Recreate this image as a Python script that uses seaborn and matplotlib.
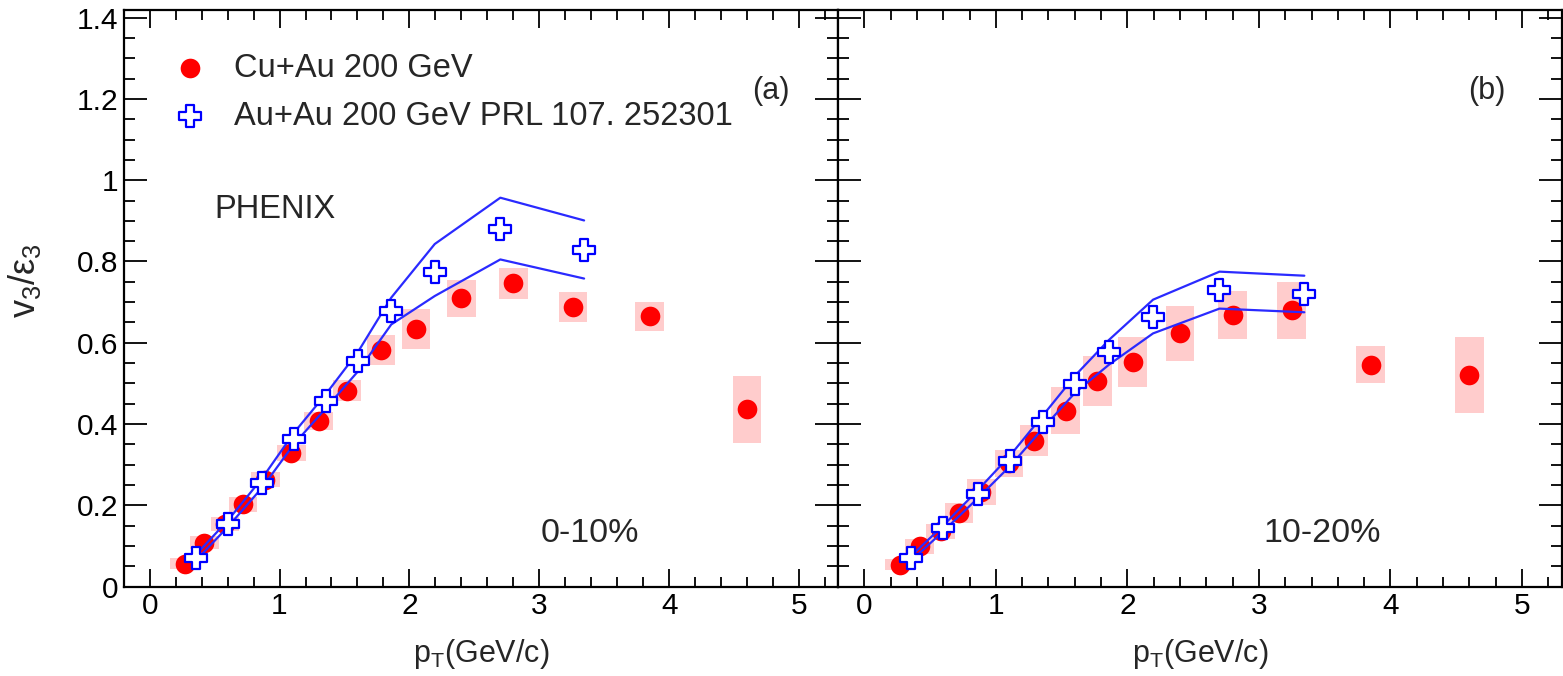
import numpy as np
import pandas as pd
import matplotlib
matplotlib.use("Agg")
import matplotlib.pyplot as plt
from matplotlib.ticker import MultipleLocator, FixedLocator
import seaborn as sns

sns.set_theme(style="ticks")
plt.rcParams["font.family"] = ["Liberation Sans", "DejaVu Sans"]
plt.rcParams["mathtext.default"] = "regular"

# ---------------- data ----------------
# Cu+Au 200 GeV, panel (a) 0-10%
cuau_pt_a = [0.27, 0.42, 0.58, 0.72, 0.89, 1.09, 1.30, 1.52, 1.78, 2.05, 2.40, 2.80, 3.26, 3.85, 4.60]
cuau_v_a = [0.056, 0.108, 0.153, 0.202, 0.263, 0.329, 0.408, 0.482, 0.583, 0.634, 0.709, 0.746, 0.689, 0.665, 0.436]
cuau_sys_a = [0.014, 0.016, 0.017, 0.018, 0.019, 0.020, 0.022, 0.026, 0.037, 0.049, 0.046, 0.039, 0.037, 0.036, 0.083]

# Cu+Au 200 GeV, panel (b) 10-20%
cuau_pt_b = [0.27, 0.42, 0.58, 0.72, 0.89, 1.10, 1.29, 1.53, 1.77, 2.04, 2.40, 2.80, 3.25, 3.85, 4.60]
cuau_v_b = [0.054, 0.099, 0.136, 0.181, 0.232, 0.303, 0.359, 0.433, 0.506, 0.553, 0.623, 0.668, 0.680, 0.546, 0.520]
cuau_sys_b = [0.014, 0.018, 0.018, 0.024, 0.032, 0.034, 0.039, 0.057, 0.061, 0.061, 0.068, 0.059, 0.070, 0.046, 0.094]

# Au+Au 200 GeV PRL 107, 252301
auau_pt = [0.355, 0.60, 0.865, 1.11, 1.36, 1.605, 1.86, 2.195, 2.70, 3.345]
auau_v_a = [0.071, 0.153, 0.254, 0.364, 0.457, 0.555, 0.678, 0.775, 0.880, 0.828]
auau_hi_a = [0.078, 0.162, 0.266, 0.378, 0.475, 0.578, 0.711, 0.843, 0.957, 0.901]
auau_lo_a = [0.064, 0.146, 0.243, 0.350, 0.440, 0.530, 0.645, 0.715, 0.805, 0.758]
auau_v_b = [0.069, 0.143, 0.228, 0.310, 0.405, 0.499, 0.577, 0.664, 0.729, 0.720]
auau_hi_b = [0.075, 0.150, 0.238, 0.323, 0.422, 0.520, 0.607, 0.706, 0.775, 0.765]
auau_lo_b = [0.063, 0.136, 0.218, 0.297, 0.390, 0.478, 0.546, 0.623, 0.684, 0.675]

x_ticks = [0, 1, 2, 3, 4, 5]
y_ticks = [0, 0.2, 0.4, 0.6, 0.8, 1.0, 1.2, 1.4]
y_tick_labels = ["0", "0.2", "0.4", "0.6", "0.8", "1", "1.2", "1.4"]
panel_tags = ["(a)", "(b)"]
cent_labels = ["0-10%", "10-20%"]
label_cuau = "Cu+Au 200 GeV"
label_auau = "Au+Au 200 GeV PRL 107. 252301"

# ---------------- figure ----------------
W, H = 1563, 676
fig = plt.figure(figsize=(W / 100, H / 100), dpi=100)
bot = 1 - 586.5 / H
hgt = (586.5 - 9.6) / H
ax1 = fig.add_axes([123.7 / W, bot, (838 - 123.7) / W, hgt])
ax2 = fig.add_axes([838 / W, bot, (1561.5 - 838) / W, hgt])

RED = "#ff0000"
PINK = "#ffcccc"
BLUE = "#0000ff"
LBLUE = "#2a2aff"

panels = [
    (ax1, cuau_pt_a, cuau_v_a, cuau_sys_a, auau_v_a, auau_hi_a, auau_lo_a),
    (ax2, cuau_pt_b, cuau_v_b, cuau_sys_b, auau_v_b, auau_hi_b, auau_lo_b),
]

for i, (ax, pt, v, sys_, av, ahi, alo) in enumerate(panels):
    cu = pd.DataFrame({"pt": pt, "v": v, "sys": sys_})
    au = pd.DataFrame({"pt": auau_pt, "v": av, "hi": ahi, "lo": alo})
    # systematic boxes
    ax.bar(cu["pt"], 2 * cu["sys"], bottom=cu["v"] - cu["sys"], width=0.22,
           color=PINK, edgecolor="none", zorder=1)
    # Cu+Au points
    sns.scatterplot(data=cu, x="pt", y="v", ax=ax, color=RED, s=200, marker="o",
                    linewidth=0, zorder=3, label=label_cuau if i == 0 else None)
    # Au+Au band lines
    sns.lineplot(data=au, x="pt", y="hi", ax=ax, color=LBLUE, lw=1.6, sort=False,
                 estimator=None, zorder=4, legend=False)
    sns.lineplot(data=au, x="pt", y="lo", ax=ax, color=LBLUE, lw=1.6, sort=False,
                 estimator=None, zorder=4, legend=False)
    # Au+Au points
    sns.scatterplot(data=au, x="pt", y="v", ax=ax, marker="P", s=260,
                    facecolor="white", edgecolor=BLUE, linewidth=1.6, zorder=5,
                    label=label_auau if i == 0 else None)

    ax.set_xlim(-0.2, 5.3)
    ax.set_ylim(0, 1.42)
    ax.xaxis.set_major_locator(FixedLocator(x_ticks))
    ax.xaxis.set_minor_locator(MultipleLocator(0.2))
    ax.yaxis.set_major_locator(FixedLocator(y_ticks))
    ax.yaxis.set_minor_locator(MultipleLocator(0.05))
    ax.set_xticklabels([str(t) for t in x_ticks])
    ax.set_yticklabels(y_tick_labels)
    ax.tick_params(which="both", direction="in", top=True, right=True,
                   width=1.3, colors="black", labelsize=21.5)
    ax.tick_params(axis="x", which="major", length=13, pad=4)
    ax.tick_params(axis="x", which="minor", length=7)
    ax.tick_params(axis="y", which="major", length=16.5, pad=4)
    ax.tick_params(axis="y", which="minor", length=8)
    for sp in ax.spines.values():
        sp.set_linewidth(1.6)
        sp.set_color("black")
    ax.set_xlabel("p$_T$(GeV/c)", fontsize=22)
    ax.xaxis.set_label_coords(0.5, -0.088)
    ax.set_ylabel("")
    ax.text(4.78 if i == 0 else 4.73, 1.219, panel_tags[i], fontsize=22,
            ha="center", va="center")
    ax.text(3.01 if i == 0 else 3.03, 0.131, cent_labels[i], fontsize=24.5,
            ha="left", va="center")
    ax.set_facecolor("white")

ax2.tick_params(axis="y", which="both", labelleft=False)
ax1.set_ylabel("v$_3$/ε$_3$", fontsize=26)
ax1.yaxis.set_label_coords(-0.113, 0.53)
ax1.text(0.5, 0.928, "PHENIX", fontsize=23.5, ha="left", va="center")

leg = ax1.legend(loc="upper left", bbox_to_anchor=(0.066, 0.925), frameon=False,
                 fontsize=23.5, handlelength=1.2, handletextpad=0.72,
                 labelspacing=0.52, borderpad=0, borderaxespad=0)

fig.savefig("out.png", dpi=100, facecolor="white")
